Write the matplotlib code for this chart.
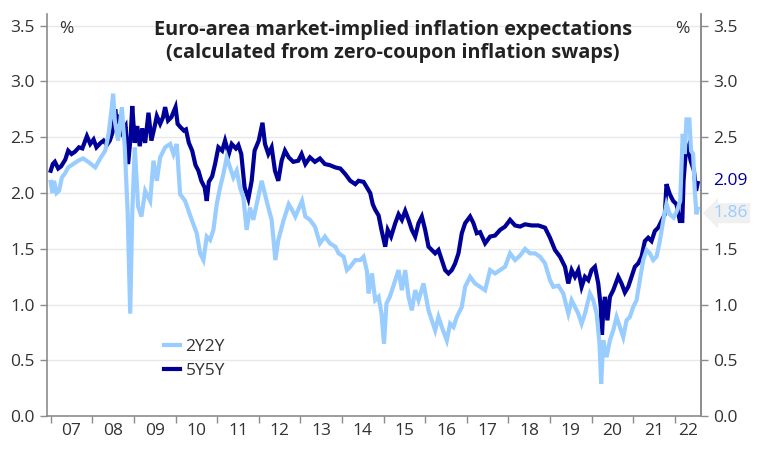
import matplotlib
matplotlib.use("Agg")
import matplotlib.pyplot as plt
import numpy as np

plt.rcParams['font.family'] = ['Open Sans', 'DejaVu Sans']

# ---- data (decimal years, percent) ----
t_5y5y = [2007.00, 2007.05, 2007.10, 2007.18, 2007.25, 2007.35, 2007.42, 2007.50, 2007.58, 2007.68,
          2007.76, 2007.87, 2007.95, 2008.03, 2008.10, 2008.20, 2008.27, 2008.35, 2008.42, 2008.50,
          2008.55, 2008.60, 2008.66, 2008.72, 2008.80, 2008.86, 2008.92, 2008.96, 2009.02, 2009.08,
          2009.14, 2009.20, 2009.27, 2009.35, 2009.42, 2009.50, 2009.55, 2009.63, 2009.70, 2009.75,
          2009.82, 2009.90, 2010.00, 2010.05, 2010.12, 2010.20, 2010.25, 2010.32, 2010.40, 2010.48,
          2010.55, 2010.62, 2010.70, 2010.75, 2010.80, 2010.88, 2010.95, 2011.03, 2011.12, 2011.19,
          2011.28, 2011.35, 2011.45, 2011.51, 2011.58, 2011.66, 2011.75, 2011.83, 2011.90, 2012.00,
          2012.09, 2012.15, 2012.23, 2012.31, 2012.39, 2012.47, 2012.55, 2012.63, 2012.72, 2012.83,
          2012.95, 2013.03, 2013.12, 2013.23, 2013.35, 2013.47, 2013.59, 2013.71, 2013.84, 2013.96,
          2014.08, 2014.20, 2014.32, 2014.40, 2014.52, 2014.60, 2014.68, 2014.74, 2014.80, 2014.88,
          2014.95, 2015.04, 2015.10, 2015.18, 2015.28, 2015.36, 2015.44, 2015.52, 2015.60, 2015.68,
          2015.76, 2015.84, 2015.92, 2016.00, 2016.08, 2016.16, 2016.24, 2016.32, 2016.40, 2016.48,
          2016.56, 2016.64, 2016.72, 2016.80, 2016.88, 2016.96, 2017.08, 2017.16, 2017.24, 2017.32,
          2017.44, 2017.56, 2017.68, 2017.80, 2017.92, 2018.04, 2018.16, 2018.28, 2018.40, 2018.56,
          2018.72, 2018.88, 2019.00, 2019.12, 2019.24, 2019.36, 2019.44, 2019.52, 2019.60, 2019.68,
          2019.76, 2019.84, 2019.92, 2020.00, 2020.08, 2020.16, 2020.22, 2020.25, 2020.28, 2020.32,
          2020.38, 2020.44, 2020.52, 2020.64, 2020.72, 2020.80, 2020.88, 2020.96, 2021.04, 2021.12,
          2021.20, 2021.28, 2021.36, 2021.44, 2021.52, 2021.60, 2021.68, 2021.76, 2021.80, 2021.88,
          2021.96, 2022.04, 2022.12, 2022.18, 2022.21, 2022.26, 2022.32, 2022.38, 2022.46, 2022.51,
          2022.55]
v_5y5y = [2.20, 2.26, 2.28, 2.22, 2.24, 2.30, 2.38, 2.35, 2.37, 2.41,
          2.40, 2.51, 2.44, 2.48, 2.41, 2.45, 2.47, 2.43, 2.47, 2.56,
          2.75, 2.62, 2.70, 2.55, 2.60, 2.26, 2.50, 2.78, 2.45, 2.60,
          2.42, 2.58, 2.45, 2.72, 2.47, 2.60, 2.69, 2.62, 2.68, 2.77,
          2.65, 2.68, 2.77, 2.62, 2.59, 2.56, 2.57, 2.45, 2.38, 2.25,
          2.20, 2.11, 2.05, 1.93, 2.10, 2.15, 2.26, 2.41, 2.38, 2.47,
          2.35, 2.44, 2.40, 2.43, 2.35, 2.05, 1.95, 2.11, 2.38, 2.47,
          2.63, 2.44, 2.35, 2.41, 2.20, 2.11, 2.29, 2.38, 2.32, 2.28,
          2.29, 2.35, 2.26, 2.32, 2.28, 2.31, 2.26, 2.25, 2.23, 2.22,
          2.17, 2.11, 2.08, 2.11, 2.10, 2.05, 2.00, 1.90, 1.85, 1.80,
          1.67, 1.52, 1.67, 1.61, 1.73, 1.81, 1.76, 1.84, 1.76, 1.67,
          1.61, 1.73, 1.79, 1.67, 1.52, 1.49, 1.46, 1.49, 1.40, 1.31,
          1.28, 1.31, 1.37, 1.46, 1.64, 1.73, 1.79, 1.73, 1.64, 1.65,
          1.55, 1.61, 1.62, 1.67, 1.70, 1.76, 1.71, 1.70, 1.72, 1.71,
          1.71, 1.69, 1.60, 1.49, 1.43, 1.34, 1.19, 1.31, 1.25, 1.31,
          1.16, 1.25, 1.22, 1.31, 1.34, 1.19, 0.98, 0.73, 0.95, 1.07,
          0.86, 1.07, 1.13, 1.25, 1.19, 1.11, 1.16, 1.25, 1.34, 1.37,
          1.43, 1.57, 1.60, 1.57, 1.66, 1.69, 1.75, 1.81, 2.08, 1.99,
          1.93, 1.90, 1.75, 1.75, 2.11, 2.35, 2.41, 2.29, 2.20, 2.02,
          2.09]

t_2y2y = [2007.00, 2007.04, 2007.08, 2007.14, 2007.20, 2007.27, 2007.35, 2007.42, 2007.54, 2007.66,
          2007.78, 2007.90, 2008.07, 2008.19, 2008.31, 2008.39, 2008.46, 2008.50, 2008.54, 2008.62,
          2008.71, 2008.78, 2008.85, 2008.91, 2008.96, 2009.02, 2009.10, 2009.18, 2009.27, 2009.39,
          2009.47, 2009.55, 2009.63, 2009.75, 2009.87, 2009.95, 2010.03, 2010.11, 2010.23, 2010.39,
          2010.51, 2010.59, 2010.67, 2010.75, 2010.83, 2010.91, 2010.99, 2011.07, 2011.15, 2011.23,
          2011.31, 2011.39, 2011.47, 2011.55, 2011.63, 2011.71, 2011.79, 2011.87, 2011.95, 2012.07,
          2012.15, 2012.23, 2012.31, 2012.40, 2012.47, 2012.60, 2012.72, 2012.80, 2012.88, 2013.04,
          2013.12, 2013.23, 2013.35, 2013.47, 2013.59, 2013.71, 2013.84, 2013.92, 2014.04, 2014.12,
          2014.20, 2014.32, 2014.44, 2014.52, 2014.60, 2014.64, 2014.72, 2014.80, 2014.88, 2014.95,
          2015.01, 2015.07, 2015.15, 2015.28, 2015.36, 2015.44, 2015.52, 2015.60, 2015.68, 2015.76,
          2015.84, 2015.96, 2016.08, 2016.16, 2016.24, 2016.32, 2016.40, 2016.52, 2016.60, 2016.68,
          2016.76, 2016.88, 2016.96, 2017.08, 2017.20, 2017.32, 2017.44, 2017.56, 2017.68, 2017.80,
          2017.92, 2018.04, 2018.16, 2018.28, 2018.40, 2018.52, 2018.64, 2018.76, 2018.88, 2019.00,
          2019.08, 2019.20, 2019.32, 2019.44, 2019.52, 2019.60, 2019.68, 2019.76, 2019.84, 2019.96,
          2020.04, 2020.12, 2020.19, 2020.23, 2020.28, 2020.36, 2020.44, 2020.52, 2020.60, 2020.68,
          2020.76, 2020.84, 2020.92, 2021.00, 2021.08, 2021.16, 2021.24, 2021.32, 2021.40, 2021.48,
          2021.56, 2021.64, 2021.72, 2021.80, 2021.88, 2021.97, 2022.05, 2022.13, 2022.19, 2022.24,
          2022.28, 2022.35, 2022.39, 2022.44, 2022.48, 2022.52, 2022.55]
v_2y2y = [2.10, 2.00, 2.11, 2.00, 2.02, 2.14, 2.18, 2.23, 2.26, 2.29,
          2.31, 2.28, 2.23, 2.31, 2.38, 2.53, 2.74, 2.89, 2.65, 2.47,
          2.77, 2.41, 1.82, 0.92, 1.82, 2.41, 1.88, 1.79, 2.02, 1.93,
          2.29, 2.11, 2.32, 2.41, 2.44, 2.35, 2.44, 1.99, 1.93, 1.76,
          1.64, 1.46, 1.40, 1.61, 1.58, 1.67, 1.90, 2.05, 2.17, 2.32,
          2.23, 2.14, 2.20, 2.05, 1.96, 1.67, 1.87, 1.76, 1.90, 2.11,
          1.99, 1.87, 1.76, 1.40, 1.58, 1.76, 1.90, 1.85, 1.79, 1.93,
          1.79, 1.76, 1.70, 1.55, 1.61, 1.55, 1.52, 1.46, 1.43, 1.31,
          1.34, 1.40, 1.40, 1.43, 1.30, 1.10, 1.28, 1.04, 1.07, 0.92,
          0.65, 1.01, 1.07, 1.22, 1.31, 1.13, 1.31, 1.07, 0.95, 1.13,
          1.04, 1.19, 0.95, 0.86, 0.77, 0.89, 0.80, 0.68, 0.83, 0.80,
          0.89, 0.98, 1.16, 1.25, 1.19, 1.16, 1.13, 1.31, 1.28, 1.31,
          1.34, 1.46, 1.40, 1.44, 1.50, 1.46, 1.46, 1.43, 1.37, 1.22,
          1.16, 1.17, 1.10, 0.92, 1.04, 0.98, 0.92, 0.83, 0.92, 1.10,
          1.04, 0.92, 0.65, 0.29, 0.68, 0.53, 0.68, 0.77, 0.89, 0.80,
          0.71, 0.86, 0.89, 0.98, 1.04, 1.22, 1.40, 1.49, 1.46, 1.40,
          1.43, 1.57, 1.75, 1.90, 1.81, 1.78, 1.84, 1.93, 2.53, 2.35,
          2.66, 2.66, 2.38, 2.35, 2.02, 1.81, 1.86]

years = list(range(2007, 2023))
year_labels = ["07", "08", "09", "10", "11", "12", "13", "14", "15", "16",
               "17", "18", "19", "20", "21", "22"]
y_ticks = [0.0, 0.5, 1.0, 1.5, 2.0, 2.5, 3.0, 3.5]
right_hidden = [2.0]   # right-axis tick label replaced by the end-value labels

C_DARK = "#000099"
C_LIGHT = "#99ccff"
C_TEXT = "#333333"
C_AXIS = "#8c8c8c"
FS = 12.5

fig = plt.figure(figsize=(7.6, 4.53), dpi=100)
ax = fig.add_axes([0.0618, 0.081, 0.8606, 0.887])

ax.plot(t_5y5y, v_5y5y, color=C_DARK, lw=3.0, solid_joinstyle='miter', label="5Y5Y", zorder=3)
ax.plot(t_2y2y, v_2y2y, color=C_LIGHT, lw=3.0, solid_joinstyle='miter', label="2Y2Y", zorder=4)

ax.set_xlim(2006.91, 2022.63)
ax.set_ylim(0, 3.6)

ax.spines['top'].set_visible(False)
for s in ['left', 'right', 'bottom']:
    ax.spines[s].set_color(C_AXIS)
    ax.spines[s].set_linewidth(1.2)

ax.set_yticks(y_ticks)
ax.set_yticklabels([f"{v:.1f}" for v in y_ticks])
ax.tick_params(axis='y', which='both', left=True, right=False, labelleft=True, labelright=False,
               length=5, width=1, color=C_AXIS, labelsize=FS, labelcolor=C_TEXT, pad=4)
ax.grid(axis='y', color='#e8e8e8', lw=1, zorder=0)
ax.set_axisbelow(True)

# right axis with same scale
axr = ax.twinx()
axr.set_ylim(ax.get_ylim())
axr.set_yticks(y_ticks)
axr.set_yticklabels(["" if v in right_hidden else f"{v:.1f}" for v in y_ticks])
axr.tick_params(axis='y', length=5, width=1, color=C_AXIS, labelsize=FS, labelcolor=C_TEXT, pad=4)
for s in ['top', 'left', 'bottom']:
    axr.spines[s].set_visible(False)
axr.spines['right'].set_color(C_AXIS)
axr.spines['right'].set_linewidth(1.2)

ax.set_xticks(years)
ax.set_xticklabels([])
ax.tick_params(axis='x', which='major', length=5, width=1, color=C_AXIS)
label_pos = [y + 0.5 for y in years[:-1]] + [2022.32]
ax.set_xticks(label_pos, minor=True)
ax.set_xticklabels(year_labels, minor=True)
ax.tick_params(axis='x', which='minor', length=0, labelsize=FS, labelcolor=C_TEXT, pad=5)

# % markers
ax.text(0.018, 0.985, "%", transform=ax.transAxes, fontsize=FS, color=C_TEXT, va='top', ha='left')
ax.text(0.982, 0.985, "%", transform=ax.transAxes, fontsize=FS, color=C_TEXT, va='top', ha='right')

# title
fig.text(0.517, 0.955, "Euro-area market-implied inflation expectations\n(calculated from zero-coupon inflation swaps)",
         ha='center', va='top', fontsize=14.3, fontweight='bold', color='#222222', linespacing=1.2)

# legend
h, l = ax.get_legend_handles_labels()
leg = ax.legend(h[::-1], l[::-1], loc='upper left', bbox_to_anchor=(0.168, 0.21), frameon=False,
                fontsize=FS, handlelength=0.95, handletextpad=0.3, labelspacing=0.45,
                borderaxespad=0)
for t in leg.get_texts():
    t.set_color(C_TEXT)

# end-value labels
ax.annotate(f"{v_5y5y[-1]:.2f}", xy=(1.0, v_5y5y[-1] + 0.02), xycoords=('axes fraction', 'data'),
            xytext=(9, 0), textcoords='offset points', fontsize=FS, color=C_DARK,
            va='center', ha='left', annotation_clip=False, zorder=10)
ax.annotate(f"{v_2y2y[-1]:.2f}", xy=(1.0, v_2y2y[-1] - 0.04), xycoords=('axes fraction', 'data'),
            xytext=(9, 0), textcoords='offset points', fontsize=FS, color=C_LIGHT,
            va='center', ha='left', annotation_clip=False, zorder=10,
            bbox=dict(boxstyle='larrow,pad=0.12', fc='#f0f0f0', ec='none'))

fig.savefig("out.png", dpi=100)
